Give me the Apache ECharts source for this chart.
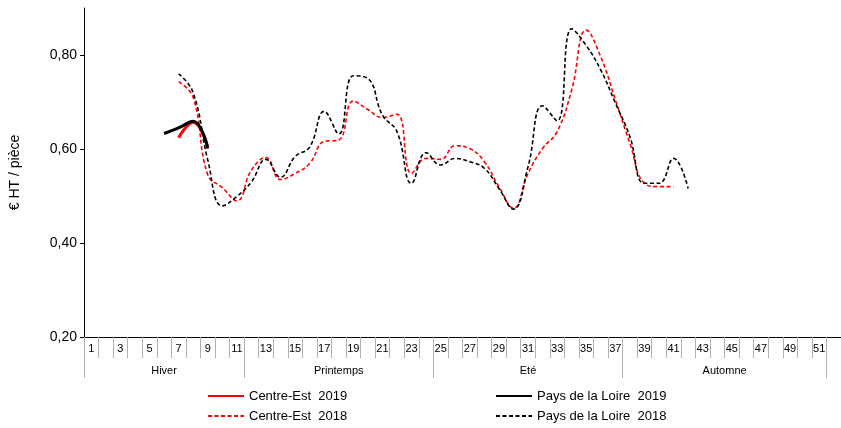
<!DOCTYPE html>
<html><head><meta charset="utf-8">
<script src="https://cdn.jsdelivr.net/npm/echarts@6/dist/echarts.min.js"></script>
<style>html,body{margin:0;padding:0;background:#fff}#c{width:841px;height:428px}</style>
</head><body><div id="c"></div>
<script>
// ---- data ----
const weeks = ['1','2','3','4','5','6','7','8','9','10','11','12','13','14','15','16','17','18','19','20',
  '21','22','23','24','25','26','27','28','29','30','31','32','33','34','35','36','37','38','39','40',
  '41','42','43','44','45','46','47','48','49','50','51','52'];
const seasons = ['Hiver', 'Printemps', 'Eté', 'Automne'];
const seasonFirstWeek = [1, 12, 25, 38];
const seasonLastWeek = [11, 24, 37, 51];
const yTicks = [0.2, 0.4, 0.6, 0.8];

const ce2019Start = 7;
const ce2019 = [0.624, 0.657, 0.605];
const pdl2019Start = 6;
const pdl2019 = [0.633, 0.645, 0.659, 0.601];
const ce2018Start = 7;
const ce2018 = [0.743, 0.710, 0.545, 0.518, 0.490, 0.555, 0.582, 0.535, 0.548, 0.569,
  0.616, 0.619, 0.702, 0.684, 0.667, 0.674, 0.548, 0.580, 0.578, 0.607,
  0.601, 0.573, 0.520, 0.474, 0.548, 0.601, 0.637, 0.726, 0.853, 0.796,
  0.705, 0.612, 0.527, 0.520, 0.520];
const pdl2018Start = 7;
const pdl2018 = [0.760, 0.720, 0.577, 0.479, 0.499, 0.530, 0.578, 0.540, 0.584, 0.604,
  0.680, 0.632, 0.756, 0.750, 0.672, 0.637, 0.527, 0.592, 0.566, 0.580,
  0.573, 0.559, 0.516, 0.472, 0.562, 0.692, 0.660, 0.856, 0.820, 0.768,
  0.698, 0.626, 0.527, 0.527, 0.580, 0.516];

const names = ['Centre-Est  2019', 'Centre-Est  2018', 'Pays de la Loire  2019', 'Pays de la Loire  2018'];

// ---- build ----
function place(start, vals) {
  const out = weeks.map(() => null);
  vals.forEach((v, i) => { out[start - 1 + i] = v; });
  return out;
}
const tickIdx = [0].concat(seasonLastWeek);
const labelIdx = {};
seasons.forEach((s, i) => {
  const mid = (seasonFirstWeek[i] + seasonLastWeek[i]) / 2;
  const idx = Math.floor(mid) - 1;
  labelIdx[idx] = { name: s, half: mid !== Math.floor(mid) };
});

const font = 'Liberation Sans, Arial, sans-serif';
const legendBase = { orient: 'vertical', top: 389.5, padding: 0, itemWidth: 36, itemHeight: 14,
  itemGap: 7, itemStyle: { opacity: 0 }, textStyle: { fontSize: 13, fontFamily: font, color: '#000' } };
const chart = echarts.init(document.getElementById('c'), null, { renderer: 'canvas' });
chart.setOption({
  animation: false,
  textStyle: { fontFamily: font, color: '#000' },
  grid: { left: 84, top: 8, width: 764.4, height: 329, containLabel: false },
  legend: [
    Object.assign({}, legendBase, { data: [names[0], names[1]], left: 207 }),
    Object.assign({}, legendBase, { data: [names[2], names[3]], left: 495 })
  ],
  xAxis: [
    { type: 'category', data: weeks, position: 'bottom', boundaryGap: true,
      axisLine: { show: true, lineStyle: { color: '#000', width: 1 } },
      axisTick: { show: true, interval: 0, length: 21, lineStyle: { color: '#b0b0b0' } },
      axisLabel: { interval: 1, fontSize: 11, margin: 6, color: '#000', fontFamily: font },
      splitLine: { show: false } },
    { type: 'category', data: weeks, position: 'bottom', boundaryGap: true,
      axisLine: { show: false },
      axisTick: { show: true, length: 41, lineStyle: { color: '#b0b0b0' },
        interval: (i) => tickIdx.indexOf(i) >= 0 },
      axisLabel: { fontSize: 11, margin: 28, color: '#000', fontFamily: font,
        interval: (i) => labelIdx[i] !== undefined,
        formatter: (v, i) => labelIdx[i] ? (labelIdx[i].half ? '{h|' + labelIdx[i].name + '}' : labelIdx[i].name) : '',
        rich: { h: { padding: [0, 0, 0, 14.7], fontSize: 11, fontFamily: font, color: '#000' } } },
      splitLine: { show: false } }
  ],
  yAxis: {
    type: 'value', min: 0.2, max: 0.9,
    name: '€ HT / pièce', nameLocation: 'middle', nameGap: 62, nameRotate: 90,
    nameTextStyle: { fontSize: 14, fontFamily: font, color: '#000' },
    axisLine: { show: true, lineStyle: { color: '#000', width: 1 } },
    axisTick: { show: true, length: 4, customValues: yTicks, lineStyle: { color: '#000' } },
    axisLabel: { customValues: yTicks, fontSize: 14, margin: 7, color: '#000', fontFamily: font,
      formatter: (v) => v.toFixed(2).replace('.', ',') },
    splitLine: { show: false }
  },
  series: [
    { name: names[1], type: 'line', data: place(ce2018Start, ce2018), smooth: 0.45, symbol: 'none',
      lineStyle: { color: '#ff0000', width: 1.6, type: [4, 2.5] }, itemStyle: { color: '#ff0000' } },
    { name: names[3], type: 'line', data: place(pdl2018Start, pdl2018), smooth: 0.45, symbol: 'none',
      lineStyle: { color: '#000', width: 1.6, type: [4, 2.5] }, itemStyle: { color: '#000' } },
    { name: names[0], type: 'line', data: place(ce2019Start, ce2019), smooth: 0.45, symbol: 'none',
      lineStyle: { color: '#ff0000', width: 3 }, itemStyle: { color: '#ff0000' } },
    { name: names[2], type: 'line', data: place(pdl2019Start, pdl2019), smooth: 0.45, symbol: 'none',
      lineStyle: { color: '#000', width: 3 }, itemStyle: { color: '#000' } }
  ]
});
</script></body></html>
